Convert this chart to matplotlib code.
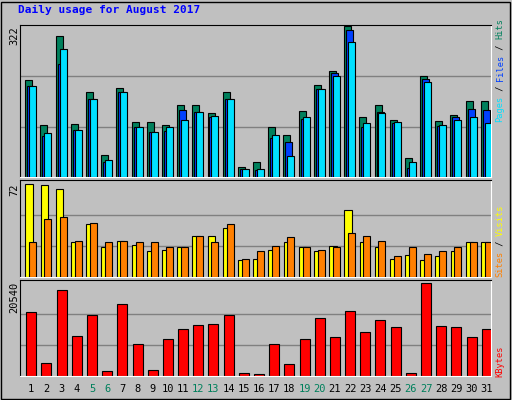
import matplotlib
matplotlib.use("Agg")
import matplotlib.pyplot as plt
import numpy as np

days = list(range(1, 32))
hits = [206,110,300,112,182,47,189,117,117,110,154,154,136,180,21,31,106,90,141,195,226,322,127,154,121,40,215,119,132,162,162]
files = [193,88,241,99,167,31,182,106,95,97,143,138,127,165,16,14,82,75,123,187,221,313,106,138,114,20,208,108,127,145,143]
pages = [193,93,272,101,165,36,182,106,95,106,121,138,130,165,16,16,90,44,127,187,215,287,114,136,117,31,202,110,121,127,114]
visits = [72,71,68,27,41,23,28,25,20,21,23,32,32,38,13,14,21,27,23,20,24,52,27,23,14,17,13,16,20,27,27]
sites = [27,45,46,28,42,27,28,27,27,23,23,32,27,41,14,20,24,31,23,21,23,34,32,28,16,23,18,20,23,27,27]
kbytes = [14220,2934,18960,8803,13543,1129,16026,6997,1354,8126,10383,11286,11512,13543,677,451,6997,2709,8126,12866,8577,14446,9706,12415,10835,677,20540,11060,10835,8577,10383]
weekend = {5,6,12,13,19,20,26,27}

W, H = 512, 400
fig = plt.figure(figsize=(W/100, H/100), dpi=100)
fig.patch.set_facecolor('#c0c0c0')
bg = '#c0c0c0'
x = np.array(days, dtype=float)

def mkax(top, bottom):
    ax = fig.add_axes([20/W, 1-bottom/H, 470.7/W, (bottom-top)/H])
    ax.set_facecolor(bg)
    ax.set_xlim(0.5, 31.5)
    ax.set_xticks([]); ax.set_yticks([])
    for s in ['top', 'left']:
        ax.spines[s].set_color('black')
    for s in ['bottom', 'right']:
        ax.spines[s].set_color('white')
    return ax

ec = dict(edgecolor='black', linewidth=0.8)
ax1 = mkax(25, 177)
ax1.set_ylim(0, 322*1.005)
for g in (322/3, 2*322/3):
    ax1.axhline(g, color='#808080', lw=1, zorder=0)
ax1.bar(x+0.08, hits, width=0.46, color='#00805c', **ec, zorder=2)
ax1.bar(x+0.21, files, width=0.46, color='#0040ff', **ec, zorder=3)
ax1.bar(x+0.34, pages, width=0.46, color='#00e0ff', **ec, zorder=4)

ax2 = mkax(180, 277)
ax2.set_ylim(0, 72*1.04)
for g in (72/3, 2*72/3):
    ax2.axhline(g, color='#808080', lw=1, zorder=0)
ax2.bar(x+0.11, visits, width=0.5, color='#ffff00', **ec, zorder=2)
ax2.bar(x+0.34, sites, width=0.46, color='#ff8000', **ec, zorder=3)

ax3 = mkax(280, 376)
ax3.set_ylim(0, 20540*1.035)
for g in (20540/3, 2*20540/3):
    ax3.axhline(g, color='#808080', lw=1, zorder=0)
ax3.bar(x+0.24, kbytes, width=0.66, color='#ff0000', **ec, zorder=2)

for d in days:
    xp = 20 + (d - 0.5 + 0.24) * 470.7/31
    fig.text(xp/W, 1-389/H, str(d), ha='center', va='center', fontsize=7.5,
             family='DejaVu Sans Mono', color='#00805c' if d in weekend else 'black')

fig.text(18/W, 1-10/H, 'Daily usage for August 2017', ha='left', va='center',
         fontsize=8, family='DejaVu Sans Mono', fontweight='bold', color='#0000ff')
fig.text(14/W, 1-36/H, '322', rotation=90, ha='center', va='center', fontsize=7.5, family='DejaVu Sans Mono')
fig.text(14/W, 1-190/H, '72', rotation=90, ha='center', va='center', fontsize=7.5, family='DejaVu Sans Mono')
fig.text(14/W, 1-297/H, '20540', rotation=90, ha='center', va='center', fontsize=7.5, family='DejaVu Sans Mono')

FS = 6.2
CW = 0.6 * FS * 100 / 72
def vtext(parts, xpix, ybottom):
    y = ybottom
    for t, c in parts:
        fig.text(xpix/W, 1-y/H, t, rotation=90, ha='center', va='bottom', fontsize=FS,
                 family='DejaVu Sans Mono', color=c)
        y -= len(t)*CW
vtext([('Pages', '#00e0ff'), (' / ', '#000000'), ('Files', '#0040ff'), (' / ', '#000000'), ('Hits', '#00805c')], 500, 122)
vtext([('Sites', '#ff8000'), (' / ', '#000000'), ('Visits', '#ffff00')], 500, 277)
vtext([('KBytes', '#ff0000')], 500, 377)

fig.add_artist(plt.Rectangle((1/W, 1/H), 509/W, 397/H, transform=fig.transFigure,
                             fill=False, edgecolor='black', lw=1))
fig.savefig('out.png', dpi=100, facecolor=fig.get_facecolor())
